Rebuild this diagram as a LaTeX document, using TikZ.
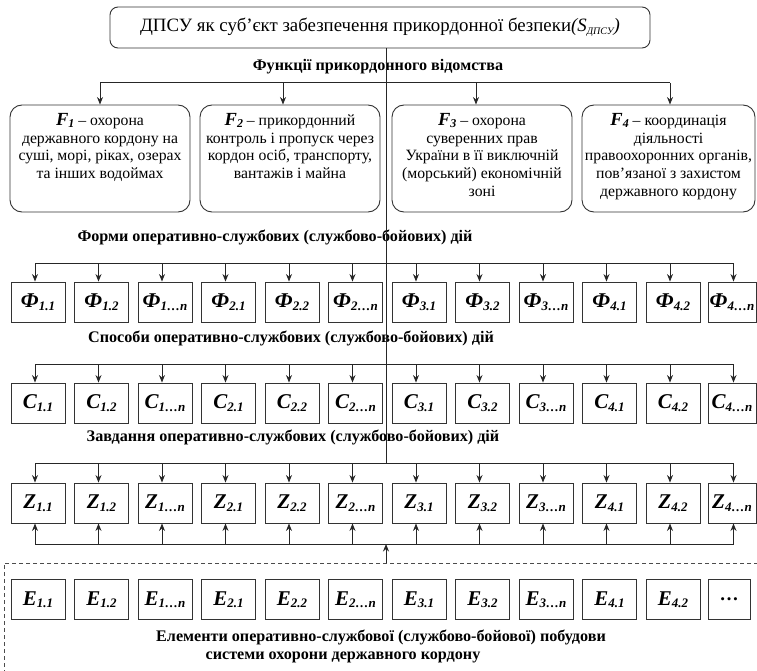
\documentclass[tikz,border=0pt]{standalone}
\usepackage{fontspec}
\setmainfont{Liberation Serif}
\usetikzlibrary{arrows.meta,calc}
\newlength\mylen
\newcommand\calcsize[4]{\settowidth\mylen{#2\fontsize{10pt}{12pt}\selectfont #3}\pgfmathsetmacro#1{10*#4/\mylen}}
\newcommand\sbx[1]{\raisebox{-2.5pt}{\fontsize{13pt}{13pt}\selectfont\bfseries\itshape #1}}
\newcommand\bl[2]{{\fontsize{21pt}{21pt}\selectfont\bfseries\itshape #1}\sbx{#2}}
\newcommand\fl[2]{{\fontsize{18.5pt}{18pt}\selectfont\bfseries\itshape #1}\raisebox{-2pt}{\fontsize{12pt}{12pt}\selectfont\bfseries\itshape #2}}
\begin{document}
\calcsize{\lsz}{\bfseries}{Форми оперативно-службових (службово-бойових) дій}{395}%
\calcsize{\fsz}{}{державного кордону на}{156}%
\calcsize{\tsz}{}{ДПСУ як суб’єкт забезпечення прикордонної безпеки}{431}%
\begin{tikzpicture}[x=1pt,y=-1pt,
  conn/.style={line width=1pt, draw=black!85},
  arr/.style={conn,-{Stealth[length=7.5pt,width=6pt]}},
  sqbox/.style={draw=black!80,line width=0.9pt,minimum width=54pt,minimum height=40pt,inner sep=0pt},
  fbox/.style={draw=black!80,line width=0.9pt,rounded corners=12pt,inner sep=0pt},
  lab/.style={inner sep=0pt,font=\bfseries\fontsize{\lsz pt}{\lsz pt}\selectfont},
  ftext/.style={align=center,inner sep=0pt,font=\fontsize{\fsz pt}{17.8pt}\selectfont},
  dashline/.style={draw=black!70,line width=0.9pt,dash pattern=on 4pt off 3pt}]
\useasboundingbox (0,0) rectangle (757,671);
\clip (0,0) rectangle (757,671);
% top
\node[fbox,rounded corners=8pt,minimum width=540pt,minimum height=41pt,font=\fontsize{\tsz pt}{\tsz pt}\selectfont] (top) at (380,27.5)
  {ДПСУ як суб’єкт забезпечення прикордонної безпеки\textit{(S\raisebox{-2.5pt}{\fontsize{10pt}{10pt}\selectfont ДПСУ})}};
\coordinate (spine) at (386,463);
\node[lab] (lf) at (378,67) {Функції прикордонного відомства};
% F boxes
\foreach \i/\c/\w/\a in {1/100/180/100,2/290/180/283,3/482/180/476,4/668.5/173/670}{
  \node[fbox,minimum width=\w pt,minimum height=107pt] (f\i) at (\c,158.5) {};
  \coordinate (fa\i) at (\a,83);
  \draw[arr] (fa\i) -- (fa\i |- f\i.north);
}
\draw[conn] (fa1) -- (fa4);
\node[ftext,anchor=north] (ft1) at (100,113) {\fl{F}{1} – охорона\\державного кордону на\\суші, морі, ріках, озерах\\та інших водоймах};
\node[ftext,anchor=north] (ft2) at (290,113) {\fl{F}{2} – прикордонний\\контроль і пропуск через\\кордон осіб, транспорту,\\вантажів і майна};
\node[ftext,anchor=north] (ft3) at (482,113) {\fl{F}{3} – охорона\\суверенних прав\\України в її виключній\\(морський) економічній\\зоні};
\node[ftext,anchor=north] (ft4) at (668.5,113) {\fl{F}{4} – координація\\діяльності\\правоохоронних органів,\\пов’язаної з захистом\\державного кордону};
% labels
\node[lab] (lfo) at (275,237) {Форми оперативно-службових (службово-бойових) дій};
\node[lab] (lsp) at (291,338) {Способи оперативно-службових (службово-бойових) дій};
\node[lab] (lza) at (293,437) {Завдання оперативно-службових (службово-бойових) дій};
\node[lab] (le1) at (381,637) {Елементи оперативно-службової (службово-бойової) побудови};
\node[lab] (le2) at (343,657) {системи охорони державного кордону};
% rows
\foreach \i/\s in {0/1.1,1/1.2,2/1…n,3/2.1,4/2.2,5/2…n,6/3.1,7/3.2,8/3…n,9/4.1,10/4.2,11/4…n}{
  \pgfmathsetmacro\bw{\i==11 ? 48 : 54}
  \pgfmathsetmacro\cx{\i==11 ? 732 : 38+63.5*\i}
  \pgfmathsetmacro\ax{35+63.5*\i}
  % Ф row
  \node[sqbox,minimum width=\bw pt] (p\i) at (\cx,302) {\bl{Ф}{\s}};
  \coordinate (pa\i) at (\ax,263);
  \draw[arr] (pa\i) -- (pa\i |- p\i.north);
  % C row
  \node[sqbox,minimum width=\bw pt] (c\i) at (\cx,403) {\bl{C}{\s}};
  \coordinate (ca\i) at (\ax,364);
  \draw[arr] (ca\i) -- (ca\i |- c\i.north);
  % Z row
  \node[sqbox,minimum width=\bw pt] (z\i) at (\cx,503) {\bl{Z}{\s}};
  \coordinate (za\i) at (\ax,463);
  \draw[arr] (za\i) -- (za\i |- z\i.north);
  \coordinate (ua\i) at (\ax,544);
  \draw[arr] (ua\i) -- (ua\i |- z\i.south);
}
\foreach \i/\s in {0/1.1,1/1.2,2/1…n,3/2.1,4/2.2,5/2…n,6/3.1,7/3.2,8/3…n,9/4.1,10/4.2}{
  \pgfmathsetmacro\cx{38+63.5*\i}
  \node[sqbox] (e\i) at (\cx,599.5) {\bl{E}{\s}};
}
\node[sqbox,minimum width=42pt,font=\bfseries\fontsize{19pt}{19pt}\selectfont] (e11) at (729,599.5) {…};
\draw[conn] (pa0) -- (pa11);
\draw[conn] (ca0) -- (ca11);
\draw[conn] (za0) -- (za11);
\draw[conn] (ua0) -- (ua11);
\draw[conn] (top.south -| spine) -- (spine);
% dashed frame
\draw[dashline] (765,563) -- (4,563) -- (4,680);
\coordinate (dtop) at (386,563);
\coordinate (ubar) at (386,544);
\draw[arr] (dtop) -- (ubar);
\end{tikzpicture}
\end{document}
